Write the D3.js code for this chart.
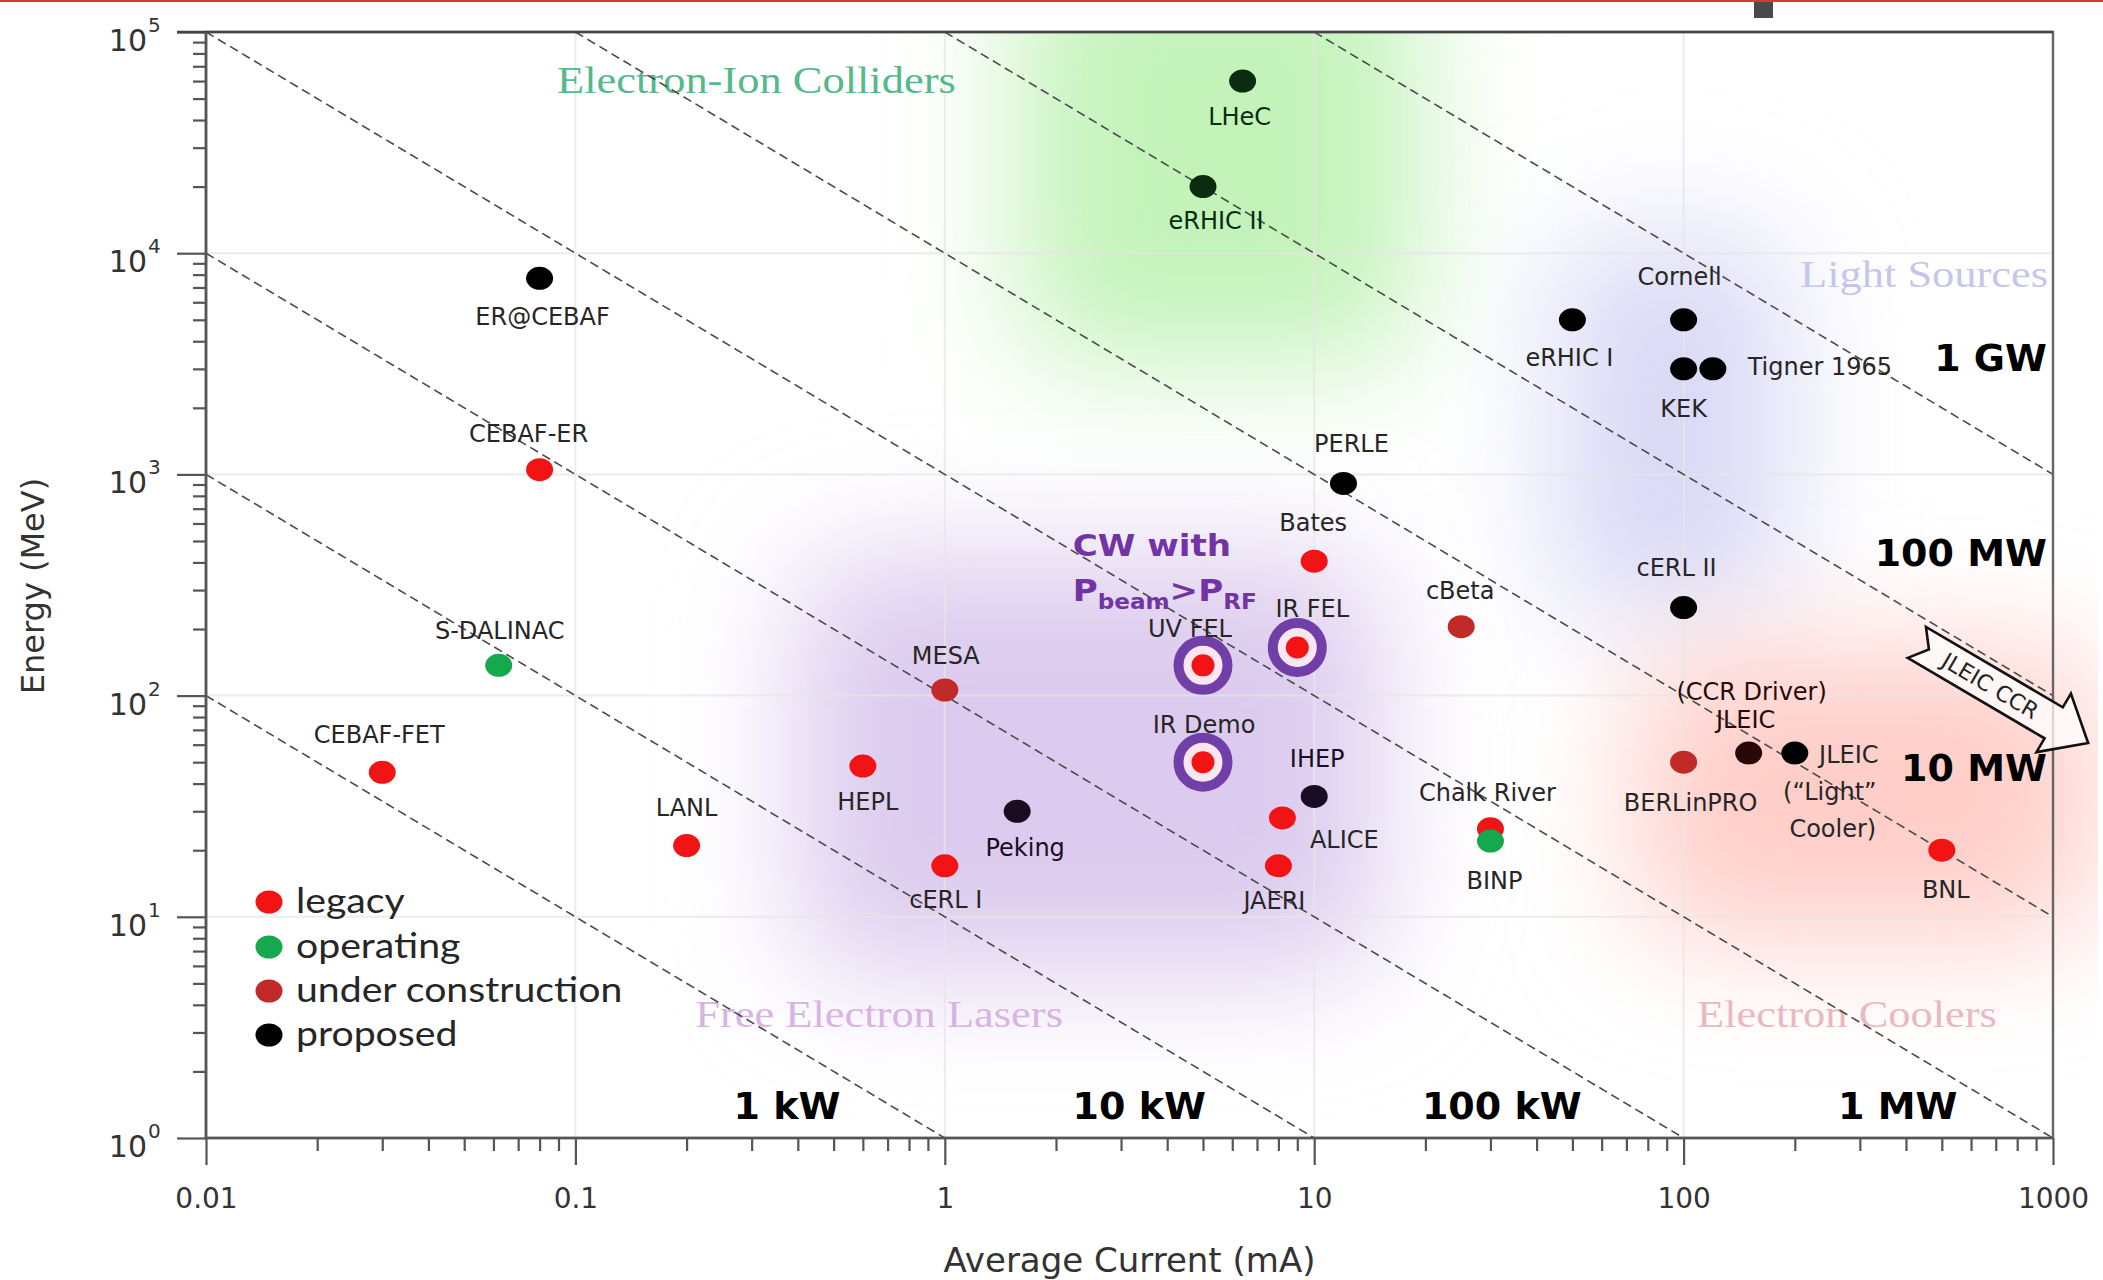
<!DOCTYPE html>
<html><head><meta charset="utf-8">
<script src="https://cdn.jsdelivr.net/npm/d3@7"></script>
<style>html,body{margin:0;padding:0;background:#fff;} svg{display:block;}</style>
</head><body>
<svg id="chart" width="2103" height="1280"></svg>
<script>
// ---------------- DATA ----------------
const names = ["ER@CEBAF","CEBAF-ER","S-DALINAC","CEBAF-FET","LANL","HEPL","MESA","cERL I","Peking",
  "UV FEL","IR FEL","IR Demo","IHEP","ALICE","JAERI","Bates","PERLE","cBeta","Chalk River","BINP",
  "LHeC","eRHIC II","eRHIC I","Cornell","KEK","Tigner 1965","cERL II","BERLinPRO",
  "JLEIC (CCR Driver)","JLEIC (\u201CLight\u201D Cooler)","BNL"];
const currents = [0.08,0.08,0.062,0.03,0.2,0.6,1,1,1.57,
  5,9,5,10,8.2,8,10,12,25,30,30,
  6.4,5,50,100,100,120,100,100,
  150,200,500];
const energies = [7700,1050,137,45,21,48,106,17,30,
  137,165,50,35,28,17,405,910,205,25,22,
  60000,20000,5000,5000,3000,3000,250,50,
  55,55,20];
const statuses = ["proposed","legacy","operating","legacy","legacy","legacy","construction","legacy","proposed",
  "legacy","legacy","legacy","proposed","legacy","legacy","legacy","proposed","construction","legacy","operating",
  "proposed","proposed","proposed","proposed","proposed","proposed","proposed","construction",
  "proposed","proposed","legacy"];
const cwRecovery = ["UV FEL","IR FEL","IR Demo"];   // ringed: P_beam > P_RF

const statusKeys = ["legacy","operating","construction","proposed"];
const statusLabels = ["legacy","operating","under construction","proposed"];

const powersKW = [1,10,100,1000,10000,100000,1000000];
const powerLabels = ["1 kW","10 kW","100 kW","1 MW","10 MW","100 MW","1 GW"];

const xTickValues = [0.01,0.1,1,10,100,1000];
const xTickLabels = ["0.01","0.1","1","10","100","1000"];
const yTickValues = [1,10,100,1000,10000,100000];
const yTickExponents = ["0","1","2","3","4","5"];

const regionNames = ["Electron-Ion Colliders","Light Sources","Free Electron Lasers","Electron Coolers"];

// ---------------- STYLE / LAYOUT ----------------
const statusColor = {legacy:"#f21414", operating:"#16a84c", construction:"#c22a2a", proposed:"#000000"};
const pointTint = {"LHeC":"#0b2c10","eRHIC II":"#0b2c10","Peking":"#1c0c22","IHEP":"#1a0c24","JLEIC (CCR Driver)":"#2a0808"};
const regionFill = ["#c3f3b9","#d9d9f6","#dccbee","#ffcdc8"];
const regionText = ["#55b98c","#c6c6ea","#d8b4e3","#eab8c0"];
// region extents in data units (current range, energy range)
const regionExtent = [
  {I0:1.6,  I1:19,   E0:3200, E1:3e5},
  {I0:45,   I1:190,  E0:220,  E1:12000},
  {I0:0.4,  I1:15,   E0:5.5,  E1:420},
  {I0:75,   I1:1300, E0:8,    E1:160}
];
const regionLabelPos = [
  {I:0.0892, E:53200, anchor:"start"},
  {I:970,    E:7060,  anchor:"end"},
  {I:0.211,  E:3.17,  anchor:"start"},
  {I:108.7,  E:3.17,  anchor:"start"}
];
const powerLabelPos = [
  {I:0.374,E:1.41,anchor:"middle"},{I:3.36,E:1.41,anchor:"middle"},{I:32.2,E:1.41,anchor:"middle"},
  {I:380,E:1.41,anchor:"middle"},{I:963,E:47.4,anchor:"end"},{I:963,E:444,anchor:"end"},{I:963,E:3375,anchor:"end"}
];
const labelLines = {
  "JLEIC (CCR Driver)":["(CCR Driver)","JLEIC"],
  "JLEIC (\u201CLight\u201D Cooler)":["JLEIC","(\u201CLight\u201D","Cooler)"]
};
// label line offsets (px) relative to the point
const labelOffsets = {
 "ER@CEBAF":[[3,38]], "CEBAF-ER":[[-11,-36]], "S-DALINAC":[[1,-35]], "CEBAF-FET":[[-3,-38]],
 "LANL":[[0,-38]], "HEPL":[[5,35]], "MESA":[[1,-35]], "cERL I":[[1,34]], "Peking":[[8,36]],
 "UV FEL":[[-13,-37]], "IR FEL":[[15,-39]], "IR Demo":[[1,-38]], "IHEP":[[3,-38]], "ALICE":[[62,21]],
 "JAERI":[[-4,35]], "Bates":[[-1,-39]], "PERLE":[[8,-40]], "cBeta":[[-1,-36]], "Chalk River":[[-3,-36]],
 "BINP":[[4,39]], "LHeC":[[-3,35]], "eRHIC II":[[13,34]], "eRHIC I":[[-3,38]], "Cornell":[[-4,-43]],
 "KEK":[[0,39]], "Tigner 1965":[[107,-3]], "cERL II":[[-7,-40]], "BERLinPRO":[[7,40]],
 "JLEIC (CCR Driver)":[[3,-62],[-3,-34]],
 "JLEIC (\u201CLight\u201D Cooler)":[[54,1],[35,38],[38,75]],
 "BNL":[[4,39]]
};

// ---------------- CHART ----------------
const M = {left:206, right:2053, top:32, bottom:1138};
const x = d3.scaleLog().domain([0.01,1000]).range([M.left,M.right]);
const y = d3.scaleLog().domain([1,1e5]).range([M.bottom,M.top]);

const svg = d3.select("#chart");
svg.append("rect").attr("width",2103).attr("height",1280).attr("fill","#fff");
svg.append("rect").attr("x",0).attr("y",0).attr("width",2103).attr("height",2).attr("fill","#d43a3c");
svg.append("rect").attr("x",1754).attr("y",2).attr("width",19).attr("height",16).attr("fill","#4a4a4a");

const defs = svg.append("defs");
defs.append("clipPath").attr("id","plotclip").append("rect")
  .attr("x",M.left).attr("y",M.top).attr("width",M.right-M.left+45).attr("height",M.bottom-M.top);
defs.append("filter").attr("id","soft").attr("filterUnits","userSpaceOnUse")
  .attr("x",0).attr("y",-400).attr("width",2600).attr("height",2000)
  .append("feGaussianBlur").attr("stdDeviation",62);

// region blobs
const blobs = svg.append("g").attr("clip-path","url(#plotclip)");
regionExtent.forEach((r,i)=>{
  blobs.append("rect").attr("x",x(r.I0)).attr("y",y(r.E1)).attr("width",x(r.I1)-x(r.I0)).attr("height",y(r.E0)-y(r.E1))
    .attr("rx",60).attr("fill",regionFill[i]).attr("filter","url(#soft)");
});

// grid
const grid = svg.append("g").attr("stroke","#e6e6e6").attr("stroke-width",2).attr("opacity",0.75);
xTickValues.slice(1,-1).forEach(v=>grid.append("line").attr("x1",x(v)).attr("x2",x(v)).attr("y1",M.top).attr("y2",M.bottom));
yTickValues.slice(1,-1).forEach(v=>grid.append("line").attr("y1",y(v)).attr("y2",y(v)).attr("x1",M.left).attr("x2",M.right));

function stext(g, px, py, str, o){
  return g.append("text").attr("transform",`translate(${px},${py}) scale(${o.sx||1},1)`)
    .attr("text-anchor",o.anchor||"start").attr("font-family",o.font).attr("font-size",o.size)
    .attr("font-weight",o.weight||"normal").attr("fill",o.fill||"#222").text(str);
}

// region labels
regionNames.forEach((n,i)=>{
  const p = regionLabelPos[i];
  stext(svg, x(p.I), y(p.E), n, {anchor:p.anchor, font:"'Liberation Serif','Times New Roman',serif", size:38, sx:1.17, fill:regionText[i]});
});

// constant power dashed lines
const lines = svg.append("g");
powersKW.forEach(P=>{
  const i0 = Math.max(0.01, P/1e5), i1 = Math.min(1000, P/1);
  lines.append("line").attr("x1",x(i0)).attr("y1",y(P/i0)).attr("x2",x(i1)).attr("y2",y(P/i1))
    .attr("stroke","#4a4a4a").attr("stroke-width",1.6).attr("stroke-dasharray","9,5");
});

// axes
const tickCol = "#555";
function minors(lo,hi){const a=[];for(let e=lo;e<hi;e++)for(let k=2;k<=9;k++)a.push(k*Math.pow(10,e));return a;}
const gx1 = svg.append("g").attr("transform",`translate(0,${M.bottom})`)
  .call(d3.axisBottom(x).tickValues(minors(-2,3)).tickSize(13).tickFormat(""));
const gx2 = svg.append("g").attr("transform",`translate(0,${M.bottom})`)
  .call(d3.axisBottom(x).tickValues(xTickValues).tickSize(27).tickFormat((d,i)=>xTickLabels[i]));
const gy1 = svg.append("g").attr("transform",`translate(${M.left},0)`)
  .call(d3.axisLeft(y).tickValues(minors(0,5)).tickSize(13).tickFormat(""));
const gy2 = svg.append("g").attr("transform",`translate(${M.left},0)`)
  .call(d3.axisLeft(y).tickValues(yTickValues).tickSize(29).tickFormat(""));
[gx1,gx2,gy1,gy2].forEach(g=>{g.select(".domain").remove();g.selectAll("line").attr("stroke",tickCol).attr("stroke-width",2.2);});
gx2.selectAll("text").attr("y",50).attr("font-family","'DejaVu Sans',Verdana,sans-serif").attr("font-size",28).attr("fill","#333");
yTickValues.forEach((v,i)=>{
  const yy = y(v);
  svg.append("text").attr("x",147).attr("y",yy+19).attr("text-anchor","end")
    .attr("font-family","'DejaVu Sans',Verdana,sans-serif").attr("font-size",30).attr("fill","#333").text("10");
  svg.append("text").attr("x",148).attr("y",yy).attr("text-anchor","start")
    .attr("font-family","'DejaVu Sans',Verdana,sans-serif").attr("font-size",20).attr("fill","#333").text(yTickExponents[i]);
});
// frame
svg.append("rect").attr("x",M.left).attr("y",M.top).attr("width",M.right-M.left).attr("height",M.bottom-M.top)
  .attr("fill","none").attr("stroke","#666").attr("stroke-width",2.4);
svg.append("line").attr("x1",M.left-29).attr("x2",M.right).attr("y1",M.top).attr("y2",M.top).attr("stroke","#444").attr("stroke-width",2.6);
svg.append("line").attr("x1",M.left).attr("x2",M.left).attr("y1",M.top).attr("y2",M.bottom).attr("stroke","#555").attr("stroke-width",2.6);
svg.append("line").attr("x1",M.left).attr("x2",M.right).attr("y1",M.bottom).attr("y2",M.bottom).attr("stroke","#555").attr("stroke-width",2.6);

// axis titles
svg.append("text").attr("transform",`translate(44,586) rotate(-90)`).attr("text-anchor","middle")
  .attr("font-family","'DejaVu Sans',Verdana,sans-serif").attr("font-size",32).attr("fill","#333").text("Energy (MeV)");
svg.append("text").attr("x",(M.left+M.right)/2).attr("y",1272).attr("text-anchor","middle")
  .attr("font-family","'DejaVu Sans',Verdana,sans-serif").attr("font-size",34).attr("fill","#333").text("Average Current (mA)");

// power labels
powerLabels.forEach((t,i)=>{
  const p = powerLabelPos[i];
  svg.append("text").attr("x",x(p.I)).attr("y",y(p.E)).attr("dy","0.36em").attr("text-anchor",p.anchor)
    .attr("font-family","'DejaVu Sans',Verdana,sans-serif").attr("font-weight","bold").attr("font-size",38)
    .attr("fill","#000").text(t);
});

// data points
const data = names.map((n,i)=>({name:n, I:currents[i], E:energies[i], status:statuses[i]}));
const pts = svg.append("g");
data.forEach(d=>{
  const cx = x(d.I), cy = y(d.E);
  if (cwRecovery.includes(d.name)) {
    pts.append("circle").attr("cx",cx).attr("cy",cy).attr("r",24.5).attr("fill","#fbe6f2")
      .attr("stroke","#7040a8").attr("stroke-width",10);
    pts.append("ellipse").attr("cx",cx).attr("cy",cy).attr("rx",11.5).attr("ry",11)
      .attr("fill",statusColor[d.status]);
  } else {
    pts.append("ellipse").attr("cx",cx).attr("cy",cy).attr("rx",13.5).attr("ry",11.5)
      .attr("fill",pointTint[d.name]||statusColor[d.status]);
  }
});
// point labels
const lab = svg.append("g").attr("font-family","'DejaVu Sans',Verdana,sans-serif").attr("font-size",24);
data.forEach(d=>{
  const cx = x(d.I), cy = y(d.E);
  const ls = labelLines[d.name] || [d.name];
  const off = labelOffsets[d.name];
  ls.forEach((t,k)=>{
    lab.append("text").attr("x",cx+off[k][0]).attr("y",cy+off[k][1]).attr("dy","0.36em")
      .attr("text-anchor","middle").attr("fill",pointTint[d.name]?pointTint[d.name]:"#262626").text(t);
  });
});

// CW with P_beam > P_RF annotation
const cwx = x(2.22), cwy = y(426);
stext(svg, cwx, cwy, "CW with", {font:"'DejaVu Sans',Verdana,sans-serif", size:31, weight:"bold", sx:1.1, fill:"#7234a4"});
const cw2 = svg.append("text").attr("transform",`translate(${cwx},${cwy+45}) scale(1.1,1)`)
  .attr("font-family","'DejaVu Sans',Verdana,sans-serif").attr("font-weight","bold").attr("font-size",31).attr("fill","#7234a4");
cw2.append("tspan").text("P");
cw2.append("tspan").attr("font-size",21).attr("dy",8).text("beam");
cw2.append("tspan").attr("dy",-8).text(">P");
cw2.append("tspan").attr("font-size",21).attr("dy",8).text("RF");

// legend
const legY = [902,947,991,1035];
statusKeys.forEach((k,i)=>{
  svg.append("ellipse").attr("cx",269).attr("cy",legY[i]).attr("rx",13.5).attr("ry",11.5).attr("fill",statusColor[k]);
  stext(svg, 296, legY[i]+11, statusLabels[i], {font:"Lato,'Open Sans',sans-serif", size:35, sx:1.12, fill:"#262626"});
});

// JLEIC CCR arrow (anchored in data coordinates)
const T = [x(428), y(174)], Hd = [x(1245), y(61)];
const L = Math.hypot(Hd[0]-T[0], Hd[1]-T[1]);
const u = [(Hd[0]-T[0])/L, (Hd[1]-T[1])/L], nrm = [-u[1], u[0]];
const w=18, hw=34, hl=40, nd=14;
const B = [Hd[0]-u[0]*hl, Hd[1]-u[1]*hl];
const P = (p,a,b)=>[p[0]+nrm[0]*a+u[0]*b, p[1]+nrm[1]*a+u[1]*b];
const poly = [P(T,w,0),P(B,w,0),P(B,hw,0),Hd,P(B,-hw,0),P(B,-w,0),P(T,-w,0),P(T,0,nd)];
svg.append("path").attr("d","M"+poly.map(p=>p.join(",")).join("L")+"Z")
  .attr("fill","#fff").attr("fill-opacity",0.75).attr("stroke","#111").attr("stroke-width",2.6).attr("stroke-linejoin","miter");
const ang = Math.atan2(u[1],u[0])*180/Math.PI;
const mid = [(T[0]+B[0])/2+u[0]*6, (T[1]+B[1])/2+u[1]*6];
svg.append("text").attr("transform",`translate(${mid[0]},${mid[1]}) rotate(${ang})`).attr("dy","0.36em")
  .attr("text-anchor","middle").attr("font-family","'DejaVu Sans',Verdana,sans-serif").attr("font-size",22)
  .attr("fill","#222").text("JLEIC CCR");
</script>
</body></html>
